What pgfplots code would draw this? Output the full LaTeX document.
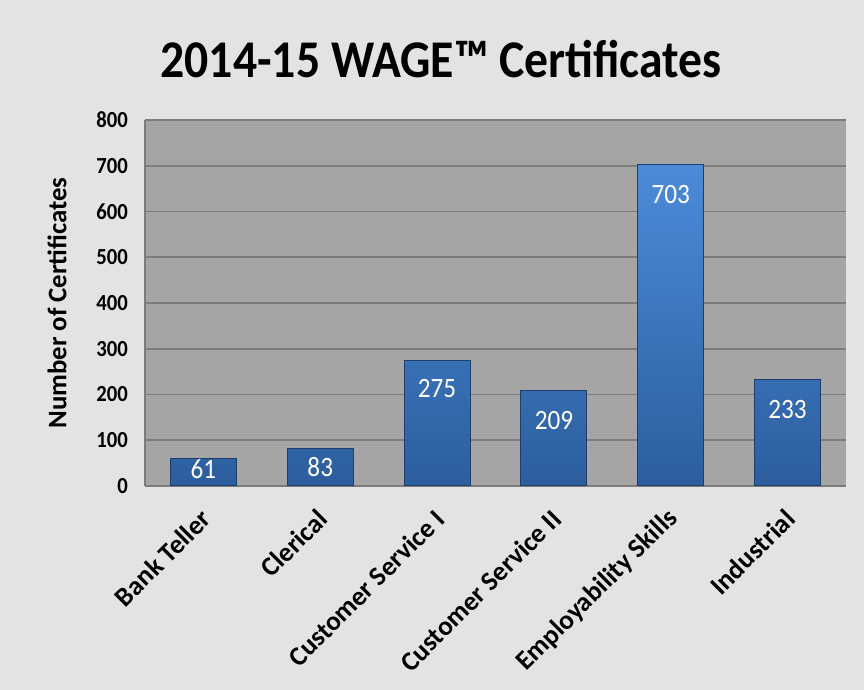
\documentclass[border=0pt]{standalone}
\usepackage{pgfplots}
\pgfplotsset{compat=1.18}
\usepackage{fontspec}
\setmainfont{Carlito}[FakeStretch=0.9]
\newfontfamily\rotfont{Carlito}
\definecolor{pagebg}{HTML}{E3E3E3}
\definecolor{plotbg}{HTML}{A5A5A5}
\definecolor{gridgray}{HTML}{7C7C7C}
\definecolor{barTop}{HTML}{4C8BD9}
\definecolor{barBot}{HTML}{2C5E9E}
\definecolor{barEdge}{HTML}{1F3E6C}

\pgfplotstableread{
x y off
0 61 -5.5
1 83 -9.5
2 275 -14
3 209 -15
4 703 -15
5 233 -15
}\certs

\begin{document}
\begin{tikzpicture}[x=1pt,y=1pt]
\fill[pagebg] (0,0) rectangle (432,345);
\node[font=\bfseries\fontsize{26.5}{30}\selectfont] at (220.5,315.5) {2014-15 WAGE™ Certificates};
\node[rotate=90, font=\rotfont\bfseries\fontsize{13.4}{15}\selectfont] at (28.5,193.5) {Number of Certificates};
\begin{axis}[
  at={(72.5pt,102pt)}, anchor=south west,
  scale only axis, width=350.5pt, height=183pt,
  xmin=-0.5, xmax=5.5, ymin=0, ymax=800,
  ytick={0,100,...,800},
  xtick={0,...,5},
  xticklabels={Bank Teller, Clerical, Customer Service I, Customer Service II, Employability Skills, Industrial},
  x tick label style={xshift=3.8pt, yshift=-11.7pt, rotate=45, anchor=east, font=\rotfont\bfseries\fontsize{13.5}{15}\selectfont},
  y tick label style={xshift=-5pt, font=\bfseries\fontsize{11.5}{13}\selectfont},
  /pgf/number format/assume math mode=true,
  ymajorgrids, grid style={gridgray, line width=0.9pt},
  axis background/.style={fill=plotbg},
  axis lines*=left, axis line style={-, gridgray, line width=0.9pt},
  major tick length=0pt,
]
\addplot[ybar, bar width=33pt, draw=barEdge, line width=0.5pt,
  top color=barTop, bottom color=barBot,
  visualization depends on={\thisrow{off} \as \off},
  nodes near coords,
  every node near coord/.append style={anchor=center, yshift=\off, text=white, font=\fontsize{14}{16}\selectfont}]
  table[x=x, y=y] {\certs};
\end{axis}
\pgfresetboundingbox
\useasboundingbox (0,0) rectangle (432,345);
\end{tikzpicture}
\end{document}
